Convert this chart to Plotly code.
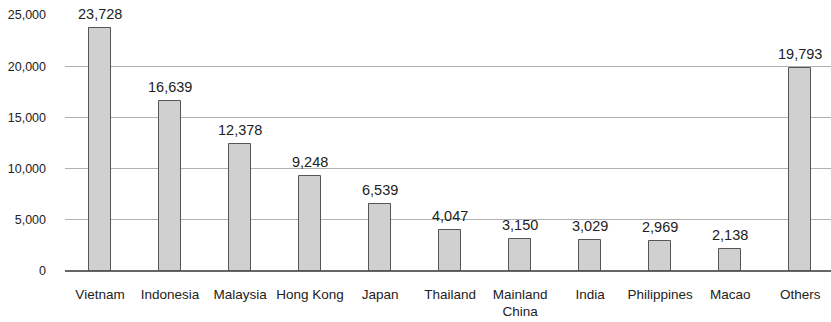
import plotly.graph_objects as go

# Visitors by country/region of origin
categories = ["Vietnam", "Indonesia", "Malaysia", "Hong Kong", "Japan", "Thailand",
              "Mainland<br>China", "India", "Philippines", "Macao", "Others"]
values = [23728, 16639, 12378, 9248, 6539, 4047, 3150, 3029, 2969, 2138, 19793]

y_ticks = [0, 5000, 10000, 15000, 20000, 25000]
y_tick_labels = ["0", "5,000", "10,000", "15,000", "20,000", "25,000"]

FONT = "Liberation Sans, Arial, sans-serif"

fig = go.Figure()
fig.add_trace(go.Bar(
    x=list(range(len(categories))),
    y=values,
    width=0.315,
    marker=dict(color="#d0d0d0", line=dict(color="#555555", width=1)),
    hoverinfo="skip",
))

# Value labels above each bar
for i, v in enumerate(values):
    fig.add_annotation(
        x=i, y=v, xref="x", yref="y",
        text=f"{v:,}", showarrow=False,
        yanchor="bottom", yshift=4,
        font=dict(family=FONT, size=14.5, color="#222222"),
    )

fig.update_layout(
    width=831, height=322,
    margin=dict(l=65, r=0, t=15, b=51),
    paper_bgcolor="white", plot_bgcolor="white",
    showlegend=False,
    bargap=0,
)
fig.update_xaxes(
    tickmode="array",
    tickvals=list(range(len(categories))),
    ticktext=categories,
    range=[-0.5, 10.44],
    showgrid=False, zeroline=False, showline=False,
    ticks="", ticklabelstandoff=13,
    tickfont=dict(family=FONT, size=13.5, color="#222222"),
)
fig.update_yaxes(
    range=[0, 25000],
    tickmode="array", tickvals=y_ticks, ticktext=y_tick_labels,
    showgrid=True, gridcolor="#b0b0b0", gridwidth=1,
    zeroline=True, zerolinecolor="#666666", zerolinewidth=1.5,
    showline=False, ticks="", ticklabelstandoff=18,
    tickfont=dict(family=FONT, size=12.5, color="#222222"),
)

fig.write_html("out.html")
